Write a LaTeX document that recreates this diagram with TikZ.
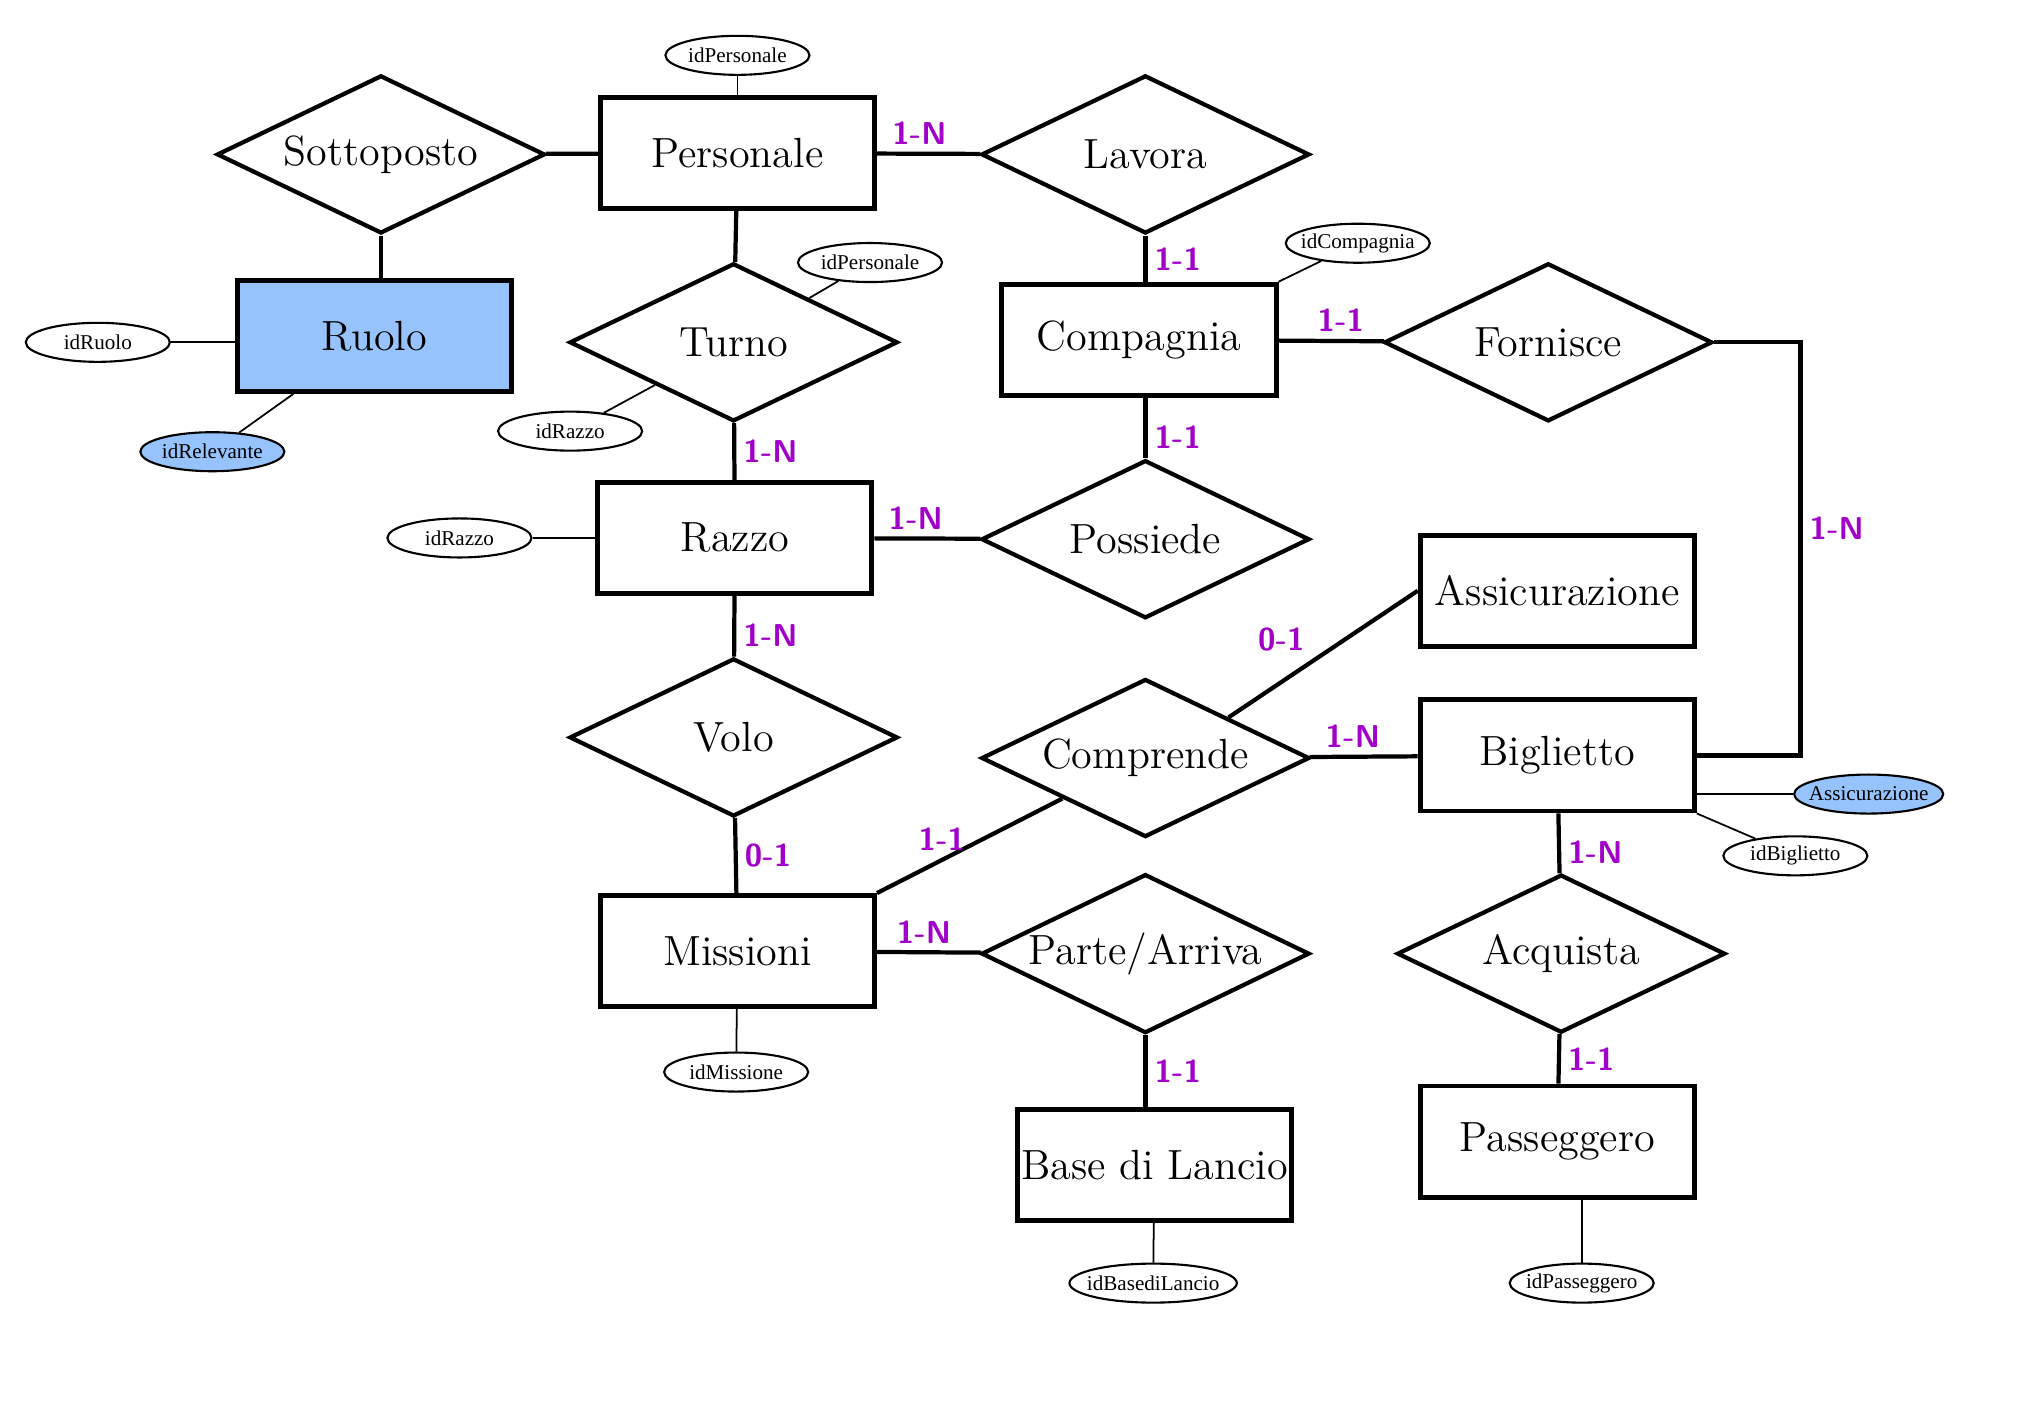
\documentclass[tikz,border=0pt]{standalone}
\usepackage{fontspec}
\usepackage{tikz}
\usetikzlibrary{shapes.geometric}
\newfontfamily\attrfont{Liberation Serif}
\definecolor{cardcol}{RGB}{160,0,200}
\definecolor{marker}{RGB}{150,195,252}
\tikzset{
    entity/.style = {rectangle, minimum width=2.74cm, minimum height=1.11cm, inner xsep=1pt, text centered, draw=black, line width=1.4pt, font=\large},
    relation/.style = {diamond, aspect=2, minimum width=3.28cm, minimum height=1.58cm, inner sep=0pt, text centered, draw=black, line width=1.2pt, font=\large},
    attribute/.style = {ellipse, minimum width=1.44cm, minimum height=0.39cm, inner xsep=-2pt, inner ysep=0pt, draw=black, line width=0.6pt, font=\attrfont\fontsize{6}{7}\selectfont},
    card/.style = {text=cardcol, font=\sffamily\bfseries\small, inner sep=2pt},
    link/.style = {line width=1.2pt},
    attrlink/.style = {line width=0.5pt}
}

\begin{document}
\begin{tikzpicture}[x=0.01287cm, y=-0.01287cm]
\useasboundingbox (0,0) rectangle (1568,1106);
% entities and relations
\node (sottoposto) [relation] at (296,120) {Sottoposto};
\node (personale) [entity] at (573,119) {Personale};
\node (lavora) [relation] at (890,120) {Lavora};
\node (ruolo) [entity, fill=marker] at (291,261) {Ruolo};
\node (turno) [relation] at (570,266) {Turno};
\node (compagnia) [entity] at (885,264) {Compagnia};
\node (fornisce) [relation] at (1203,266) {Fornisce};
\node (razzo) [entity] at (571,418) {Razzo};
\node (possiede) [relation] at (890,419) {Possiede};
\node (assicurazione) [entity] at (1210,459) {Assicurazione};
\node (volo) [relation] at (570,573) {Volo};
\node (comprende) [relation] at (890,589) {Comprende};
\node (biglietto) [entity] at (1210,587) {Biglietto};
\node (missioni) [entity] at (573,739) {Missioni};
\node (partearriva) [relation] at (890,741) {Parte/Arriva};
\node (acquista) [relation] at (1213,741) {Acquista};
\node (base) [entity] at (897,905) {Base di Lancio};
\node (passeggero) [entity] at (1210,887) {Passeggero};

% attributes
\node (idpersonale) [attribute] at (573,43) {idPersonale};
\node (idruolo) [attribute] at (76,266) {idRuolo};
\node (idrelevante) [attribute, fill=marker] at (165,351) {idRelevante};
\node (idturnopers) [attribute] at (676,204) {idPersonale};
\node (idturnorazzo) [attribute] at (443,335) {idRazzo};
\node (idcompagnia) [attribute] at (1055,189) {idCompagnia};
\node (idrazzo) [attribute] at (357,418) {idRazzo};
\node (assattr) [attribute, fill=marker] at (1452,617) {Assicurazione};
\node (idbiglietto) [attribute] at (1395,665) {idBiglietto};
\node (idmissione) [attribute] at (572,833) {idMissione};
\node (idbase) [attribute] at (896,997) {idBasediLancio};
\node (idpasseggero) [attribute] at (1229,997) {idPasseggero};

\coordinate (fbend) at (1399,266);

% connectors
\draw [link] (sottoposto) -- (personale);
\draw [link] (sottoposto.south) -- (sottoposto.south |- ruolo.north);
\draw [link] (personale) -- node (cA) [card, above, pos=0.41] {1-N} (lavora);
\draw [link] (lavora.south) -- node (cB) [card, right, pos=0.5] {1-1} (lavora.south |- compagnia.north);
\draw [link] (compagnia) -- node (cC) [card, above, pos=0.59] {1-1} (fornisce);
\draw [link] (possiede.north |- compagnia.south) -- node (cD) [card, right, pos=0.65] {1-1} (possiede.north);
\draw [link] (personale) -- (turno);
\draw [link] (turno) -- node (cE) [card, right, pos=0.5] {1-N} (razzo);
\draw [link] (razzo) -- node (cF) [card, above, pos=0.39] {1-N} (possiede);
\draw [link] (razzo) -- node (cG) [card, right, pos=0.65] {1-N} (volo);
\draw [link] (comprende.north east) -- node (cH) [card, above left, pos=0.45] {0-1} (assicurazione.west);
\draw [link] (fornisce.east) -- (fbend) -- node (cI) [card, right, pos=0.45] {1-N} (fbend |- biglietto.east) -- (biglietto.east);
\draw [link] (comprende) -- node (cJ) [card, above, pos=0.4] {1-N} (biglietto);
\draw [link] (missioni.north east) -- node (cK) [card, above, pos=0.35] {1-1} (comprende.south west);
\draw [link] (volo) -- node (cL) [card, right, pos=0.5] {0-1} (missioni);
\draw [link] (missioni) -- node (cM) [card, above, pos=0.45] {1-N} (partearriva);
\draw [link] (biglietto) -- node (cN) [card, right, pos=0.65] {1-N} (acquista);
\draw [link] (partearriva.south) -- node (cO) [card, right, pos=0.5] {1-1} (partearriva.south |- base.north);
\draw [link] (acquista) -- node (cP) [card, right, pos=0.5] {1-1} (passeggero);

% attribute links
\draw [attrlink] (idpersonale) -- (personale);
\draw [attrlink] (idruolo.east) -- (idruolo.east -| ruolo.west);
\draw [attrlink] (idrelevante) -- (ruolo);
\draw [attrlink] (idturnopers) -- (turno);
\draw [attrlink] (idturnorazzo) -- (turno);
\draw [attrlink] (idcompagnia) -- (compagnia.north east);
\draw [attrlink] (idrazzo) -- (razzo);
\draw [attrlink] (assattr.west) -- (biglietto.east |- assattr.west);
\draw [attrlink] (idbiglietto) -- (biglietto.south east);
\draw [attrlink] (idmissione) -- (missioni);
\draw [attrlink] (idbase) -- (base);
\draw [attrlink] (idpasseggero.north) -- (idpasseggero.north |- passeggero.south);
\end{tikzpicture}
\end{document}
